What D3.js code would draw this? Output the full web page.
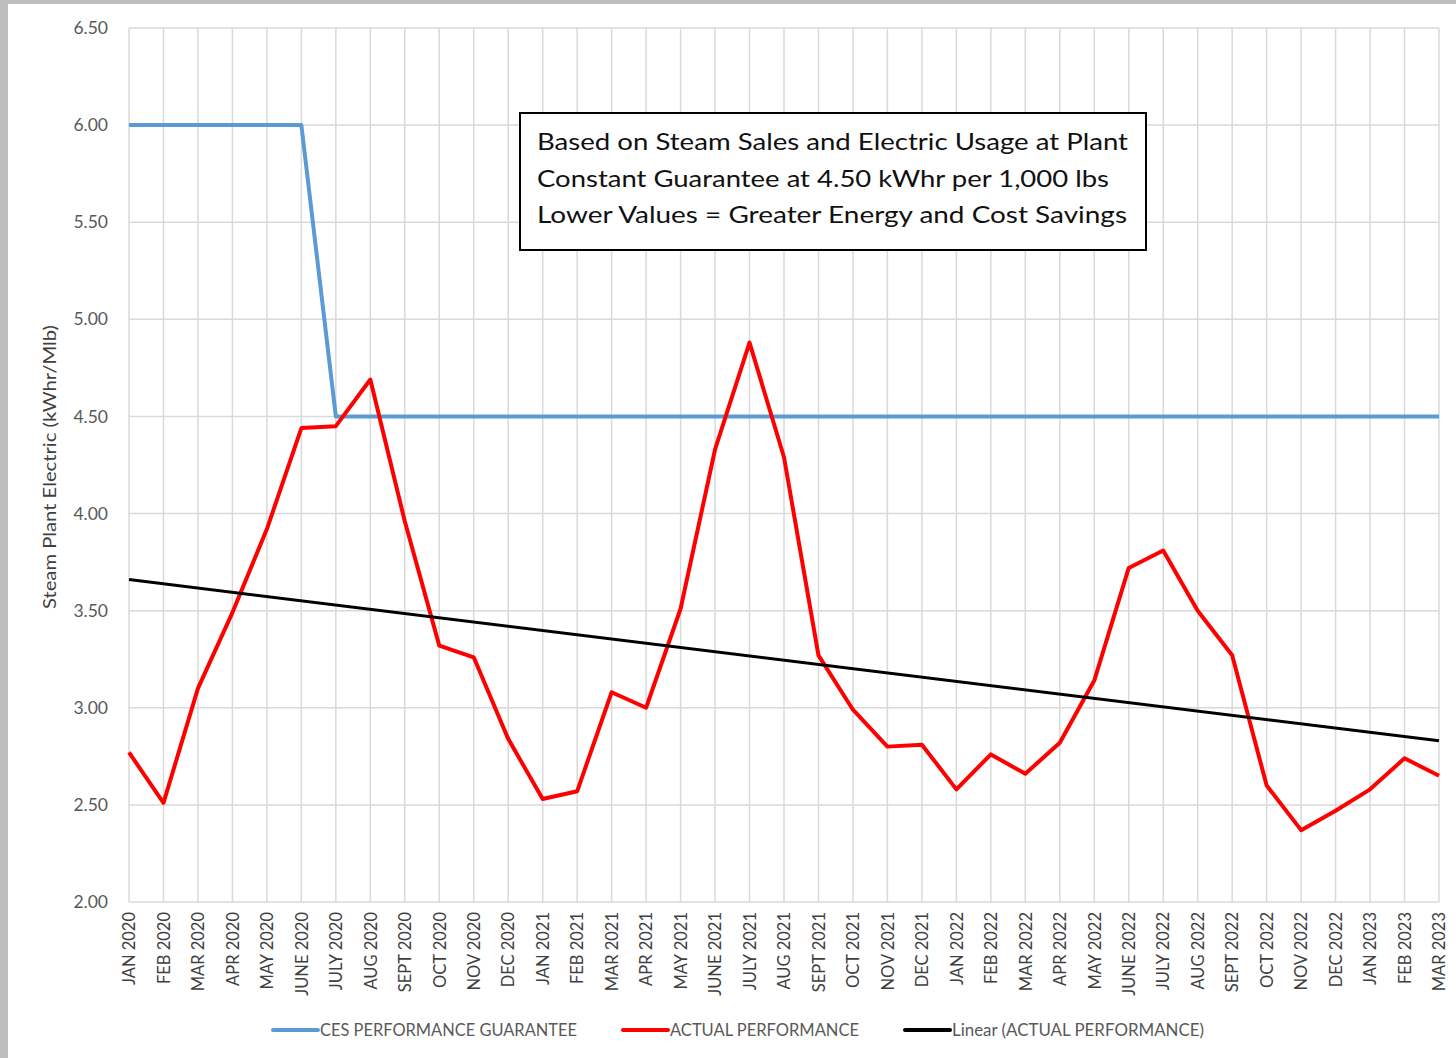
<!DOCTYPE html>
<html>
<head>
<meta charset="utf-8">
<script src="https://cdn.jsdelivr.net/npm/d3@7.9.0/dist/d3.min.js"></script>
<style>
  body { margin: 0; background: #fff; }
  svg { display: block; }
</style>
</head>
<body>
<svg id="chart" width="1456" height="1058"></svg>
<script>
const months = ['JAN 2020','FEB 2020','MAR 2020','APR 2020','MAY 2020','JUNE 2020','JULY 2020','AUG 2020','SEPT 2020','OCT 2020','NOV 2020','DEC 2020',
  'JAN 2021','FEB 2021','MAR 2021','APR 2021','MAY 2021','JUNE 2021','JULY 2021','AUG 2021','SEPT 2021','OCT 2021','NOV 2021','DEC 2021',
  'JAN 2022','FEB 2022','MAR 2022','APR 2022','MAY 2022','JUNE 2022','JULY 2022','AUG 2022','SEPT 2022','OCT 2022','NOV 2022','DEC 2022',
  'JAN 2023','FEB 2023','MAR 2023'];

const guarantee = [6.00,6.00,6.00,6.00,6.00,6.00,4.50,4.50,4.50,4.50,4.50,4.50,
  4.50,4.50,4.50,4.50,4.50,4.50,4.50,4.50,4.50,4.50,4.50,4.50,
  4.50,4.50,4.50,4.50,4.50,4.50,4.50,4.50,4.50,4.50,4.50,4.50,
  4.50,4.50,4.50];

const actual = [2.77,2.51,3.10,3.49,3.92,4.44,4.45,4.69,3.96,3.32,3.26,2.84,
  2.53,2.57,3.08,3.00,3.51,4.33,4.88,4.29,3.27,2.99,2.80,2.81,
  2.58,2.76,2.66,2.82,3.14,3.72,3.81,3.50,3.27,2.60,2.37,2.47,
  2.58,2.74,2.65];

// trendline ends
const trendMonths = ['JAN 2020', 'MAR 2023'];
const trendValues = [3.66, 2.83];

const yTicks = [2.0, 2.5, 3.0, 3.5, 4.0, 4.5, 5.0, 5.5, 6.0, 6.5];

const noteLines = [
  'Based on Steam Sales and Electric Usage at Plant',
  'Constant Guarantee at 4.50 kWhr per 1,000 lbs',
  'Lower Values  = Greater Energy and Cost Savings'
];

const svg = d3.select('#chart');
const plotL = 129, plotR = 1439, plotT = 28, plotB = 902;
const font = 'Lato, "Open Sans", sans-serif';

// gray frame of the screenshot
svg.append('rect').attr('x', 0).attr('y', 0).attr('width', 1456).attr('height', 4).attr('fill', '#bdbdbd');
svg.append('rect').attr('x', 0).attr('y', 0).attr('width', 8).attr('height', 1058).attr('fill', '#bdbdbd');

let x = d3.scalePoint().domain(months).range([plotL, plotR]);
let y = d3.scaleLinear().domain([2, 6.5]).range([plotB, plotT]);

// grid
let grid = svg.append('g').attr('stroke', '#d9d9d9').attr('stroke-width', 1.5);
months.forEach(m => {
  grid.append('line').attr('x1', x(m)).attr('x2', x(m)).attr('y1', plotT).attr('y2', plotB);
});
yTicks.forEach(t => {
  grid.append('line').attr('x1', plotL).attr('x2', plotR).attr('y1', y(t)).attr('y2', y(t));
});

// y axis labels
let yAxis = svg.append('g')
  .attr('transform', `translate(${plotL},0)`)
  .call(d3.axisLeft(y).tickValues(yTicks).tickFormat(d3.format('.2f')).tickSize(0).tickPadding(21));
yAxis.select('.domain').remove();
yAxis.selectAll('text').attr('font-family', font).attr('font-size', 17.5).attr('fill', '#595959');

svg.append('text')
  .attr('transform', `translate(56,${(plotT + plotB) / 2 + 2}) rotate(-90)`)
  .attr('text-anchor', 'middle')
  .attr('font-family', font)
  .attr('font-size', 17.5)
  .attr('fill', '#404040')
  .attr('textLength', 284)
  .attr('lengthAdjust', 'spacingAndGlyphs')
  .text('Steam Plant Electric (kWhr/Mlb)');

// x axis labels
let xAxis = svg.append('g')
  .attr('transform', `translate(0,${plotB})`)
  .call(d3.axisBottom(x).tickSize(0).tickPadding(0));
xAxis.select('.domain').remove();
xAxis.selectAll('text')
  .attr('transform', 'rotate(-90)')
  .attr('text-anchor', 'end')
  .attr('x', -10)
  .attr('y', 0)
  .attr('dy', '0.35em')
  .attr('font-family', font)
  .attr('font-size', 16.5)
  .attr('fill', '#404040');

// series
let line = d3.line().x((d, i) => x(months[i])).y(d => y(d));

svg.append('path').datum(guarantee)
  .attr('d', line).attr('fill', 'none')
  .attr('stroke', '#5b9bd5').attr('stroke-width', 4).attr('stroke-linejoin', 'round');

svg.append('path').datum(actual)
  .attr('d', line).attr('fill', 'none')
  .attr('stroke', '#ff0000').attr('stroke-width', 4).attr('stroke-linejoin', 'round');

svg.append('path').datum(trendValues)
  .attr('d', d3.line().x((d, i) => x(trendMonths[i])).y(d => y(d)))
  .attr('fill', 'none').attr('stroke', '#000').attr('stroke-width', 3);

// annotation box
let note = svg.append('g');
note.append('rect')
  .attr('x', 520).attr('y', 113).attr('width', 626).attr('height', 137)
  .attr('fill', '#fff').attr('stroke', '#000').attr('stroke-width', 2);
noteLines.forEach((t, i) => {
  note.append('text')
    .attr('x', 537).attr('y', 150 + i * 36.5)
    .attr('font-family', font)
    .attr('font-size', 24)
    .attr('fill', '#111')
    .attr('textLength', i == 0 ? 591 : (i == 1 ? 572 : 590))
    .attr('lengthAdjust', 'spacingAndGlyphs')
    .text(t);
});

// legend
const legendItems = [
  { label: 'CES PERFORMANCE GUARANTEE', color: '#5b9bd5', x: 273, w: 257 },
  { label: 'ACTUAL PERFORMANCE', color: '#ff0000', x: 623, w: 189 },
  { label: 'Linear (ACTUAL PERFORMANCE)', color: '#000', x: 905, w: 252 }
];
let legend = svg.append('g').attr('transform', 'translate(0,1030)');
legendItems.forEach(d => {
  legend.append('line')
    .attr('x1', d.x).attr('x2', d.x + 45).attr('y1', 0).attr('y2', 0)
    .attr('stroke', d.color).attr('stroke-width', 4).attr('stroke-linecap', 'round');
  legend.append('text')
    .attr('x', d.x + 47).attr('y', 0).attr('dy', '0.35em')
    .attr('font-family', font)
    .attr('font-size', 16.8)
    .attr('fill', '#595959')
    .attr('textLength', d.w)
    .attr('lengthAdjust', 'spacingAndGlyphs')
    .text(d.label);
});
</script>
</body>
</html>
